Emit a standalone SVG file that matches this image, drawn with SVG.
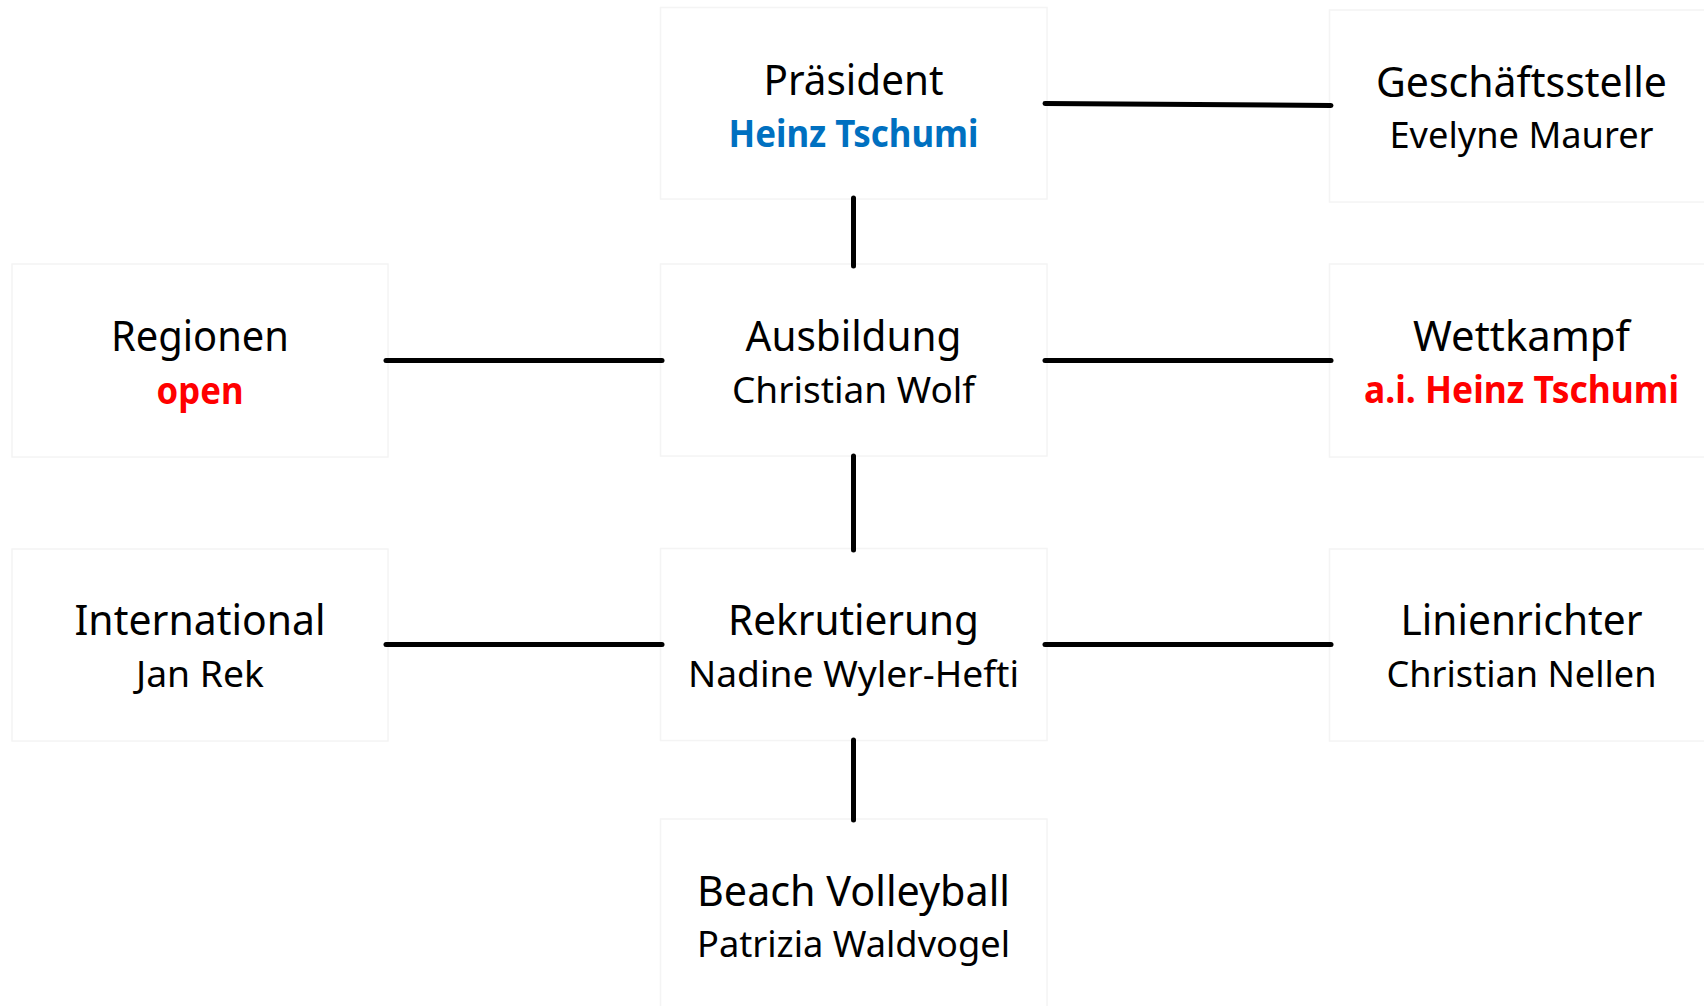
<svg xmlns="http://www.w3.org/2000/svg" width="1704" height="1006" viewBox="0 0 1704 1006">
<style>
.box{fill:#ffffff;stroke:#f4f4f4;stroke-width:1.5}
.t{font-family:"Noto Sans","Open Sans","Liberation Sans",sans-serif;font-size:42px;fill:#000;text-anchor:middle}
.n{font-family:"Noto Sans","Open Sans","Liberation Sans",sans-serif;font-size:37px;fill:#000;text-anchor:middle}
.b{font-weight:bold}
.blue{fill:#0070c0}
.red{fill:#ff0000}
.c{stroke:#000;stroke-width:5;stroke-linecap:round;fill:none}
</style>
<rect width="1704" height="1006" fill="#ffffff"/>
<g id="praesident">
<rect class="box" x="660.5" y="7.5" width="386.5" height="191.5"/>
<text class="t" x="853.5" y="95" textLength="180" lengthAdjust="spacingAndGlyphs">Präsident</text>
<text class="n b blue" x="853.5" y="147" textLength="250" lengthAdjust="spacingAndGlyphs">Heinz Tschumi</text>
</g>
<g id="geschaeftsstelle">
<rect class="box" x="1329.5" y="10" width="387" height="192"/>
<text class="t" x="1521.5" y="97" textLength="291" lengthAdjust="spacingAndGlyphs">Geschäftsstelle</text>
<text class="n" x="1521.5" y="148" textLength="264" lengthAdjust="spacingAndGlyphs">Evelyne Maurer</text>
</g>
<g id="regionen">
<rect class="box" x="12" y="264" width="376" height="193"/>
<text class="t" x="200" y="351" textLength="178" lengthAdjust="spacingAndGlyphs">Regionen</text>
<text class="n b red" x="200" y="404" textLength="87" lengthAdjust="spacingAndGlyphs">open</text>
</g>
<g id="ausbildung">
<rect class="box" x="660.5" y="264" width="386.5" height="192"/>
<text class="t" x="853.5" y="351" textLength="216" lengthAdjust="spacingAndGlyphs">Ausbildung</text>
<text class="n" x="853.5" y="403" textLength="243" lengthAdjust="spacingAndGlyphs">Christian Wolf</text>
</g>
<g id="wettkampf">
<rect class="box" x="1329.5" y="264" width="387" height="193"/>
<text class="t" x="1521.5" y="351" textLength="217" lengthAdjust="spacingAndGlyphs">Wettkampf</text>
<text class="n b red" x="1521.5" y="403" textLength="315" lengthAdjust="spacingAndGlyphs">a.i. Heinz Tschumi</text>
</g>
<g id="international">
<rect class="box" x="12" y="549" width="376" height="192"/>
<text class="t" x="200" y="635" textLength="251" lengthAdjust="spacingAndGlyphs">International</text>
<text class="n" x="200" y="687" textLength="128" lengthAdjust="spacingAndGlyphs">Jan Rek</text>
</g>
<g id="rekrutierung">
<rect class="box" x="660.5" y="548.5" width="386.5" height="192"/>
<text class="t" x="853.5" y="635" textLength="251" lengthAdjust="spacingAndGlyphs">Rekrutierung</text>
<text class="n" x="853.5" y="687" textLength="331" lengthAdjust="spacingAndGlyphs">Nadine Wyler-Hefti</text>
</g>
<g id="linienrichter">
<rect class="box" x="1329.5" y="549" width="387" height="192"/>
<text class="t" x="1521.5" y="635" textLength="242" lengthAdjust="spacingAndGlyphs">Linienrichter</text>
<text class="n" x="1521.5" y="687" textLength="270" lengthAdjust="spacingAndGlyphs">Christian Nellen</text>
</g>
<g id="beach-volleyball">
<rect class="box" x="660.5" y="819" width="386.5" height="192"/>
<text class="t" x="853.5" y="906" textLength="313" lengthAdjust="spacingAndGlyphs">Beach Volleyball</text>
<text class="n" x="853.5" y="957" textLength="313" lengthAdjust="spacingAndGlyphs">Patrizia Waldvogel</text>
</g>
<g id="connectors">
<line class="c" x1="1045" y1="103.5" x2="1331" y2="105.5"/>
<line class="c" x1="853.5" y1="198" x2="853.5" y2="266"/>
<line class="c" x1="386" y1="360.5" x2="662" y2="360.5"/>
<line class="c" x1="1045" y1="360.5" x2="1331" y2="360.5"/>
<line class="c" x1="853.5" y1="456" x2="853.5" y2="550"/>
<line class="c" x1="386" y1="644.5" x2="662" y2="644.5"/>
<line class="c" x1="1045" y1="644.5" x2="1331" y2="644.5"/>
<line class="c" x1="853.5" y1="740" x2="853.5" y2="820"/>
</g>
</svg>
